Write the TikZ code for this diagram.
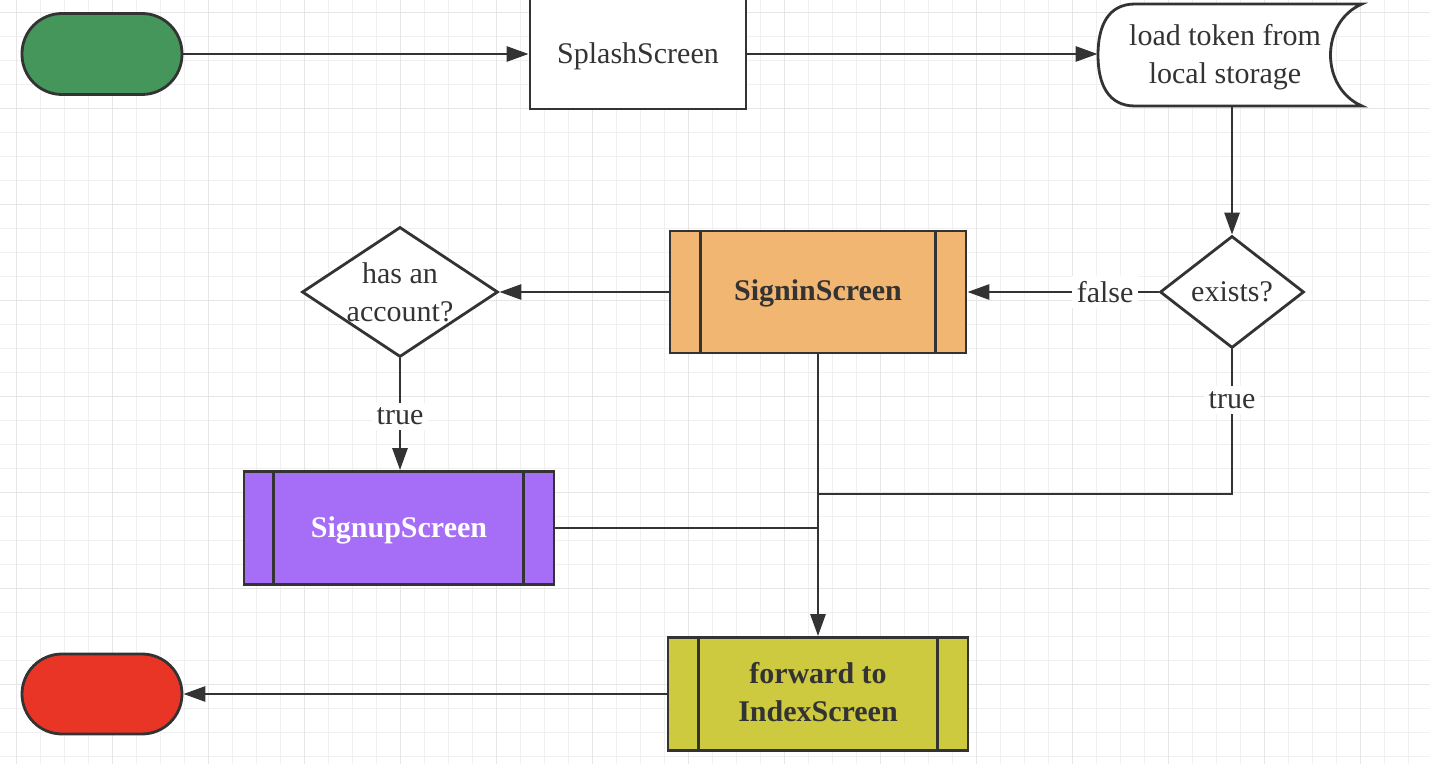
\documentclass[tikz,border=0pt]{standalone}
\usepackage{fontspec}
\setmainfont{Liberation Serif}
\usetikzlibrary{shapes.geometric,arrows.meta,calc}
\definecolor{ln}{HTML}{333333}
\definecolor{gridminor}{HTML}{F0F0F0}
\definecolor{gridmajor}{HTML}{E6E6E6}
\definecolor{termgreen}{HTML}{44965A}
\definecolor{termred}{HTML}{E93526}
\definecolor{signinfill}{HTML}{F2B673}
\definecolor{signupfill}{HTML}{A66EF6}
\definecolor{indexfill}{HTML}{CDCA40}
\tikzset{
  txt/.style={text=ln, font=\fontsize{15}{19}\selectfont, align=center},
  btxt/.style={txt, font=\fontsize{15}{19}\selectfont\bfseries},
  line/.style={draw=ln, line width=1.4pt},
  arr/.style={line, -{Triangle[length=11pt,width=7.5pt]}},
  term/.style={draw=ln, line width=1.4pt, rectangle, rounded corners=20pt,
    minimum width=80pt, minimum height=40.5pt, inner sep=0pt},
  proc/.style={draw=ln, line width=1.4pt, rectangle, inner sep=0pt},
  dia/.style={draw=ln, line width=1.4pt, diamond, fill=white, inner sep=0pt},
  lab/.style={txt, fill=white, inner sep=2.5pt},
}
\begin{document}
\begin{tikzpicture}[x=0.5pt,y=-0.5pt]
\useasboundingbox (0,0) rectangle (1430,764);
\fill[white] (0,0) rectangle (1430,764);
% grid
\foreach \i in {0,...,59} {
  \pgfmathsetmacro\xx{16.7+24*\i}
  \draw[gridminor, line width=0.55pt] (\xx,0) -- (\xx,764);
}
\foreach \i in {0,...,31} {
  \pgfmathsetmacro\yy{12.7+24*\i}
  \draw[gridminor, line width=0.55pt] (0,\yy) -- (1430,\yy);
}
\foreach \i in {0,...,14} {
  \pgfmathsetmacro\xx{16.7+96*\i}
  \draw[gridmajor, line width=0.65pt] (\xx,0) -- (\xx,764);
}
\foreach \i in {0,...,7} {
  \pgfmathsetmacro\yy{12.7+96*\i}
  \draw[gridmajor, line width=0.65pt] (0,\yy) -- (1430,\yy);
}

% nodes
\node[term, fill=termgreen] (start) at (102,54) {};
\node[proc, fill=white, minimum width=108pt, minimum height=55.5pt] (splash) at (638,53.5) {};
\node[txt] (splashtext) at (638,56.5) {SplashScreen};

\node[inner sep=0pt, minimum width=132pt, minimum height=51pt] (store) at (1230,55) {};
\draw[line, fill=white] (1135,4) -- (1362,4)
  .. controls (1320,22) and (1320,88) .. (1362,106)
  -- (1135,106)
  .. controls (1108,106) and (1098,84) .. (1098,55)
  .. controls (1098,26) and (1108,4) .. (1135,4);
\node[txt] (storetext) at (1225,57) {load token from\\local storage};

\node[dia, minimum width=72pt, minimum height=56pt] (ex) at (1232,292) {};
\node[txt] (extext) at (ex) {exists?};

\node[proc, fill=signinfill, minimum width=148pt, minimum height=61pt] (signin) at (818,292) {};
\draw[line] ($(signin.north west)+(32,0)$) -- ($(signin.south west)+(32,0)$);
\draw[line] ($(signin.north east)+(-32,0)$) -- ($(signin.south east)+(-32,0)$);
\node[btxt] (signintext) at (818,293.5) {SigninScreen};

\node[dia, minimum width=98pt, minimum height=65pt] (acct) at (400,292) {};
\node[txt] (accttext) at (400,292) {has an\\account?};

\node[proc, fill=signupfill, minimum width=155pt, minimum height=56.5pt] (signup) at (399,528) {};
\draw[line] ($(signup.north west)+(31,0)$) -- ($(signup.south west)+(31,0)$);
\draw[line] ($(signup.north east)+(-32,0)$) -- ($(signup.south east)+(-32,0)$);
\node[btxt, text=white] (signuptext) at (399,530.5) {SignupScreen};

\node[proc, fill=indexfill, minimum width=150pt, minimum height=56.5pt] (index) at (818,694) {};
\draw[line] ($(index.north west)+(32,0)$) -- ($(index.south west)+(32,0)$);
\draw[line] ($(index.north east)+(-32,0)$) -- ($(index.south east)+(-32,0)$);
\node[btxt] (indextext) at (818,692) {forward to\\IndexScreen};

\node[term, fill=termred, minimum height=40pt] (stop) at (102,694) {};

\coordinate (jn) at (818,494);
\coordinate (jn2) at (818,528);

% connectors
\draw[arr] (start.east) -- (splash.west |- start.east);
\draw[arr] (splash.east |- start.east) -- (store.west |- start.east);
\draw[arr] (ex.north |- store.south) -- (ex.north);
\draw[arr] (ex.west) -- node[lab, pos=0.28] {false} (signin.east |- ex.west);
\draw[arr] (signin.west) -- (acct.east);
\draw[arr] (acct.south) -- node[lab, pos=0.52] {true} (signup.north -| acct.south);
\draw[arr] (signin.south) -- (index.north);
\draw[line] (ex.south) -- node[lab, pos=0.35] {true} (ex.south |- jn) -- (jn);
\draw[line] (signup.east) -- (jn2);
\draw[arr] (index.west) -- (stop.east);
\end{tikzpicture}
\end{document}
